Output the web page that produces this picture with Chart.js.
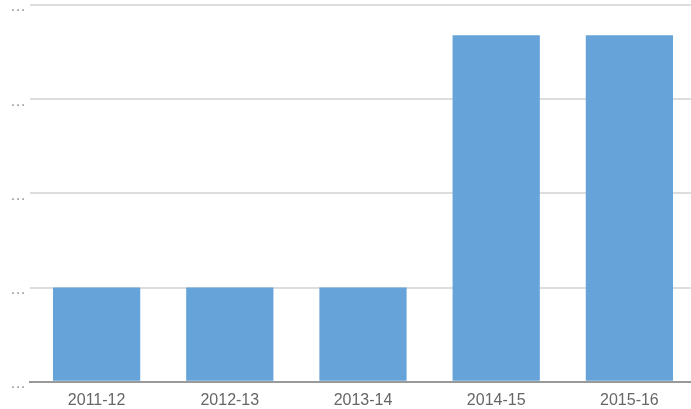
<!DOCTYPE html>
<html><head><meta charset="utf-8">
<script src="https://cdn.jsdelivr.net/npm/chart.js@4/dist/chart.umd.min.js"></script>
<style>html,body{margin:0;padding:0;overflow:hidden;background:#fff}#wrap{width:696px;height:409px}</style>
</head><body><div id="wrap"><canvas id="c"></canvas></div>
<script>
const categories = ['2011-12','2012-13','2013-14','2014-15','2015-16'];
const values = [1, 1, 1, 3.68, 3.68];
const yTicks = [0, 1, 2, 3, 4];
const yTickLabel = '…';

new Chart(document.getElementById('c'), {
  type: 'bar',
  data: { labels: categories, datasets: [{ data: values, backgroundColor: '#65a3d8', borderWidth: 0, barPercentage: 0.655, categoryPercentage: 1 }] },
  options: {
    responsive: true, maintainAspectRatio: false, animation: false,
    layout: { padding: { top: 5, right: 0, left: 6, bottom: -10 } },
    plugins: { legend: { display: false }, tooltip: { enabled: false } },
    scales: {
      x: {
        grid: { display: false, drawTicks: false },
        border: { color: '#999', width: 2 },
        ticks: { color: '#666', font: { family: 'Liberation Sans, Arial', size: 16 }, padding: 9 }
      },
      y: {
        min: yTicks[0], max: yTicks[yTicks.length-1],
        afterBuildTicks: s => { s.ticks = yTicks.map(v => ({ value: v })); },
        afterFit: s => { s.paddingTop = 0; },
        grid: { color: '#dddddd', lineWidth: 2, drawTicks: false },
        border: { display: false },
        ticks: { color: '#999', font: { family: 'Liberation Sans, Arial', size: 16 }, padding: 4, labelOffset: 2, callback: () => yTickLabel }
      }
    }
  }
});
</script></body></html>
